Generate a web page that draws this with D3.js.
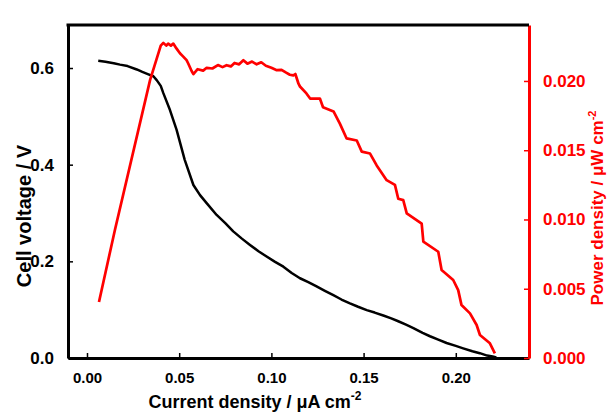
<!DOCTYPE html>
<html>
<head>
<meta charset="utf-8">
<script src="https://cdn.jsdelivr.net/npm/d3@7"></script>
<style>
  body { margin: 0; background: #fff; }
  text { font-family: "Liberation Sans", Arial, sans-serif; font-weight: bold; }
</style>
</head>
<body>
<div id="chart"></div>
<script>
// Cell voltage curve (current density, voltage)
const currentV = [0.0061, 0.010, 0.0145, 0.0179, 0.022, 0.027, 0.030, 0.0333, 0.0360, 0.0378, 0.0400, 0.0414,
  0.045, 0.0486, 0.053, 0.0577, 0.0613, 0.065, 0.0703, 0.075, 0.0793, 0.0840, 0.0884, 0.093, 0.0974,
  0.102, 0.1065, 0.111, 0.1155, 0.120, 0.1245, 0.129, 0.1336, 0.138, 0.1426, 0.147, 0.1517, 0.156,
  0.1607, 0.1650, 0.1688, 0.173, 0.177, 0.182, 0.186, 0.1905, 0.195, 0.200, 0.204, 0.209, 0.213, 0.217, 0.220, 0.222];
const voltage = [0.615, 0.613, 0.610, 0.607, 0.604, 0.597, 0.592, 0.587, 0.583, 0.575, 0.563, 0.548,
  0.513, 0.472, 0.410, 0.358, 0.337, 0.320, 0.296, 0.279, 0.262, 0.247, 0.234, 0.221, 0.210,
  0.199, 0.189, 0.176, 0.165, 0.157, 0.148, 0.139, 0.130, 0.121, 0.113, 0.106, 0.099, 0.094,
  0.088, 0.082, 0.076, 0.069, 0.062, 0.052, 0.045, 0.038, 0.031, 0.025, 0.020, 0.014, 0.010, 0.005, 0.003, 0.001];

// Power density curve (current density, power)
const currentP = [0.0065, 0.0152, 0.0342, 0.0400, 0.0414, 0.0430, 0.0440, 0.0455, 0.0468, 0.0485, 0.0504,
  0.0522, 0.0540, 0.0549, 0.0568, 0.0577, 0.0600, 0.063, 0.0649, 0.068, 0.071, 0.0735, 0.0757, 0.078, 0.080,
  0.0825, 0.0848, 0.0870, 0.0895, 0.092, 0.0945, 0.097, 0.100, 0.1029, 0.1055, 0.1080, 0.1100, 0.1119,
  0.1130, 0.1147, 0.1155, 0.119, 0.121, 0.1263, 0.128, 0.1337, 0.1372, 0.1408, 0.1463, 0.149, 0.1535,
  0.1571, 0.1625, 0.167, 0.1688, 0.1715, 0.1734, 0.1815, 0.1824, 0.1905, 0.1923, 0.1986, 0.2013, 0.2031,
  0.2077, 0.2113, 0.2131, 0.2185, 0.2212];
const power = [0.00404, 0.00928, 0.02006, 0.02255, 0.02275, 0.02255, 0.02270, 0.02255, 0.02270, 0.02235, 0.02200,
  0.02176, 0.02150, 0.02126, 0.02070, 0.02050, 0.02085, 0.02075, 0.02095, 0.02090, 0.02115, 0.02100, 0.02114, 0.02105, 0.02130,
  0.02120, 0.02150, 0.02125, 0.02140, 0.02120, 0.02135, 0.02110, 0.02095, 0.02078, 0.02080, 0.02060, 0.02045, 0.02040,
  0.02050, 0.01980, 0.01960, 0.01910, 0.01873, 0.01873, 0.01810, 0.01780, 0.01690, 0.01585, 0.01570, 0.01490, 0.01476,
  0.01390, 0.01284, 0.01250, 0.01150, 0.01140, 0.01044, 0.00970, 0.00840, 0.00767, 0.00635, 0.00563, 0.00490, 0.00382,
  0.00322, 0.00238, 0.00166, 0.00106, 0.00034];

const xTicks = [0.00, 0.05, 0.10, 0.15, 0.20];
const yLeftTicks = [0.0, 0.2, 0.4, 0.6];
const yRightTicks = [0.000, 0.005, 0.010, 0.015, 0.020];

const width = 608, height = 412;
const margin = { top: 25, right: 79, bottom: 54, left: 68 };
const innerW = width - margin.left - margin.right;
const innerH = height - margin.top - margin.bottom;

const svg = d3.select("#chart").append("svg")
  .attr("width", width).attr("height", height);
const g = svg.append("g").attr("transform", `translate(${margin.left},${margin.top})`);

const x = d3.scaleLinear().domain([-0.0103, 0.2397]).range([0, innerW]);
const yL = d3.scaleLinear().domain([0, 0.689]).range([innerH, 0]);
const yR = d3.scaleLinear().domain([0, 0.02404]).range([innerH, 0]);

// curves
const vLine = d3.line().x((d) => x(d[0])).y((d) => yL(d[1]));
const pLine = d3.line().x((d) => x(d[0])).y((d) => yR(d[1]));

g.append("path")
  .datum(currentV.map((c, i) => [c, voltage[i]]))
  .attr("fill", "none").attr("stroke", "#000").attr("stroke-width", 2.5)
  .attr("stroke-linejoin", "round").attr("d", vLine);

g.append("path")
  .datum(currentP.map((c, i) => [c, power[i]]))
  .attr("fill", "none").attr("stroke", "#ff0000").attr("stroke-width", 2.7)
  .attr("stroke-linejoin", "round").attr("d", pLine);

// axes
const xAxis = g.append("g").attr("transform", `translate(0,${innerH})`)
  .call(d3.axisBottom(x).tickValues(xTicks).tickFormat(d3.format(".2f")).tickSizeInner(-5).tickSizeOuter(0).tickPadding(14));
const yAxisL = g.append("g")
  .call(d3.axisLeft(yL).tickValues(yLeftTicks).tickFormat(d3.format(".1f")).tickSizeInner(-5).tickSizeOuter(0).tickPadding(14));
const yAxisR = g.append("g").attr("transform", `translate(${innerW},0)`)
  .call(d3.axisRight(yR).tickValues(yRightTicks).tickFormat(d3.format(".3f")).tickSizeInner(-5).tickSizeOuter(0).tickPadding(14));

[xAxis, yAxisL].forEach((a) => {
  a.select(".domain").attr("stroke", "#000").attr("stroke-width", 3);
  a.selectAll(".tick line").attr("stroke", "#000").attr("stroke-width", 1.5);
});
yAxisR.select(".domain").attr("stroke", "#ff0000").attr("stroke-width", 3);
yAxisR.selectAll(".tick line").attr("stroke", "#ff0000").attr("stroke-width", 1.5);

xAxis.selectAll(".tick text").attr("font-size", 15).attr("fill", "#000");
yAxisL.selectAll(".tick text").attr("font-size", 17).attr("fill", "#000");
yAxisR.selectAll(".tick text").attr("font-size", 17).attr("fill", "#ff0000");

// top frame
g.append("line").attr("x1", -1.5).attr("x2", innerW).attr("y1", 0).attr("y2", 0)
  .attr("stroke", "#000").attr("stroke-width", 3);

// axis titles
const xt = svg.append("text").attr("x", 255).attr("y", 408)
  .attr("text-anchor", "middle").attr("font-size", 18).attr("fill", "#000");
xt.append("tspan").text("Current density / \u03bcA cm");
xt.append("tspan").attr("dy", -8).attr("font-size", 12).text("-2");

svg.append("text")
  .attr("transform", "translate(31,216) rotate(-90)")
  .attr("text-anchor", "middle").attr("font-size", 20).attr("fill", "#000")
  .text("Cell voltage / V");

const rt = svg.append("text")
  .attr("transform", "translate(603,208) rotate(-90)")
  .attr("text-anchor", "middle").attr("font-size", 17).attr("fill", "#ff0000");
rt.append("tspan").text("Power density / \u03bcW cm");
rt.append("tspan").attr("dy", -7).attr("font-size", 11).text("-2");
</script>
</body>
</html>
